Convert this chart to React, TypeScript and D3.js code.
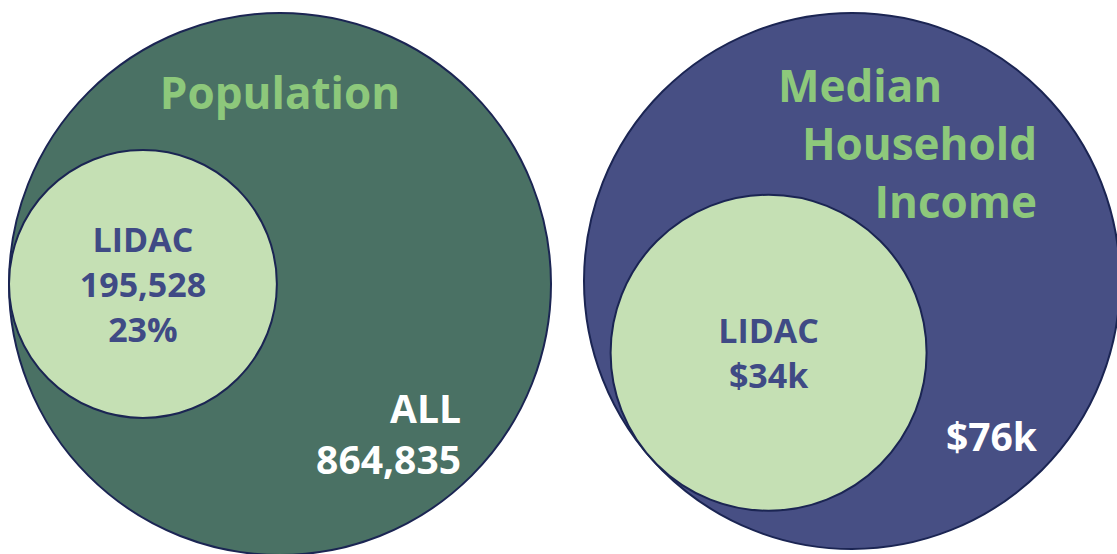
import { useEffect, useRef } from 'react';
import * as d3 from 'd3';

// values
const panelNames = ['Population', 'Median Household Income'];
const titleLines = [['Population'], ['Median', 'Household', 'Income']];
const totalValues = [864835, 76000];
const lidacValues = [195528, 34000];
const totalLabels = ['ALL', ''];
const innerLabel = 'LIDAC';

const width = 1117;
const height = 554;
const font = '"Open Sans", sans-serif';

const fmtCount = d3.format(',');
const fmtPct = d3.format('.0%');
const fmtK = (v: number) => `$${d3.format('.0f')(v / 1000)}k`;

// layout of each bubble pair (the source circles are not area-true, so each gets its own exponent)
const layout = [
  {
    cx: 280, cy: 284, r: 271, exponent: 0.474, angle: 180,
    fill: '#4a7164',
    title: { y: 109, step: 58 },
    inner: { dy: 13, step: 45 },
    total: { x: 461, y: 423, step: 51 },
  },
  {
    cx: 852, cy: 281, r: 268, exponent: 0.657, angle: 139.3,
    fill: '#474f84',
    title: { y: 102, step: 58 },
    inner: { dy: 13, step: 45 },
    total: { x: 1037, y: 451, step: 51 },
  },
];

const titleX = [[280], [778, 1037, 1037]];
const titleAnchor = [['middle'], ['start', 'end', 'end']];

const App = () => {
  const svgRef = useRef<SVGSVGElement>(null);

  useEffect(() => {
    if (!svgRef.current) return;
    const svg = d3.select(svgRef.current);
    svg.selectAll('*').remove();

    svg.append('rect').attr('width', width).attr('height', height).attr('fill', 'white');

    panelNames.forEach((name, i) => {
      const L = layout[i];
      const g = svg.append('g').attr('class', 'panel').attr('data-name', name);

      const rScale = d3.scalePow()
        .exponent(L.exponent)
        .domain([0, totalValues[i]])
        .range([0, L.r]);

      const innerR = rScale(lidacValues[i]);
      const a = (L.angle * Math.PI) / 180;
      const icx = L.cx + (L.r - innerR) * Math.cos(a);
      const icy = L.cy + (L.r - innerR) * Math.sin(a);

      // outer circle
      g.append('circle')
        .attr('cx', L.cx)
        .attr('cy', L.cy)
        .attr('r', rScale(totalValues[i]))
        .attr('fill', L.fill)
        .attr('stroke', '#1b2553')
        .attr('stroke-width', 2);

      // inner LIDAC circle
      g.append('circle')
        .attr('cx', icx)
        .attr('cy', icy)
        .attr('r', innerR)
        .attr('fill', '#c5e0b4')
        .attr('stroke', '#1b2553')
        .attr('stroke-width', 2);

      // title
      g.selectAll('.title')
        .data(titleLines[i])
        .enter().append('text')
        .attr('class', 'title')
        .attr('x', (_d, j) => titleX[i][j])
        .attr('y', (_d, j) => L.title.y + j * L.title.step)
        .attr('text-anchor', (_d, j) => titleAnchor[i][j])
        .attr('fill', '#8dc87b')
        .style('font-family', font)
        .style('font-weight', 700)
        .style('font-size', '44px')
        .text((d) => d);

      // inner labels
      const innerLines = i === 0
        ? [innerLabel, fmtCount(lidacValues[i]), fmtPct(lidacValues[i] / totalValues[i])]
        : [innerLabel, fmtK(lidacValues[i])];
      const firstY = icy + L.inner.dy - ((innerLines.length - 1) * L.inner.step) / 2;
      g.selectAll('.inner')
        .data(innerLines)
        .enter().append('text')
        .attr('class', 'inner')
        .attr('x', icx)
        .attr('y', (_d, j) => firstY + j * L.inner.step)
        .attr('text-anchor', 'middle')
        .attr('fill', '#3f4a85')
        .style('font-family', font)
        .style('font-weight', 700)
        .style('font-size', '34px')
        .text((d) => d);

      // total labels
      const totalLines = i === 0
        ? [totalLabels[i], fmtCount(totalValues[i])]
        : [fmtK(totalValues[i])];
      g.selectAll('.total')
        .data(totalLines)
        .enter().append('text')
        .attr('class', 'total')
        .attr('x', L.total.x)
        .attr('y', (_d, j) => L.total.y + j * L.total.step)
        .attr('text-anchor', 'end')
        .attr('fill', 'white')
        .style('font-family', font)
        .style('font-weight', 700)
        .style('font-size', '39px')
        .text((d) => d);
    });
  }, []);

  return (
    <svg
      ref={svgRef}
      width={width}
      height={height}
      style={{ position: 'absolute', left: 0, top: 0, display: 'block' }}
    />
  );
};

export default App;
